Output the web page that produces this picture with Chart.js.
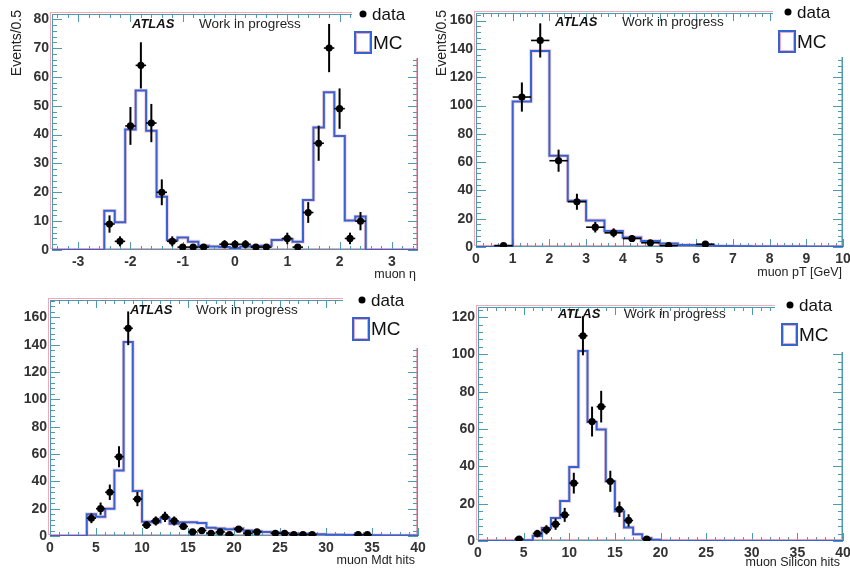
<!DOCTYPE html>
<html><head><meta charset="utf-8">
<script src="https://cdn.jsdelivr.net/npm/chart.js@4.4.1/dist/chart.umd.min.js"></script>
<style>
html,body{margin:0;padding:0;background:#fff;}
#wrap{position:relative;width:850px;height:572px;overflow:hidden;background:#fff;}
canvas{position:absolute;}
</style></head><body>
<div id="wrap">
<canvas id="c1" width="435" height="286" style="left:0;top:0;width:435px;height:286px"></canvas>
<canvas id="c2" width="425" height="286" style="left:425px;top:0;width:425px;height:286px"></canvas>
<canvas id="c3" width="435" height="286" style="left:0;top:286px;width:435px;height:286px"></canvas>
<canvas id="c4" width="425" height="286" style="left:425px;top:286px;width:425px;height:286px"></canvas>
</div>
<script>
// ---------- data (bin low edge, bin width, contents) ----------
const etaLow = -2.5, etaWidth = 0.2;
const etaMC   = [13.6,9.6,41.8,55.3,41.3,18.5,3.5,4.3,2.9,1.5,1.2,1.0,0.7,1.2,1.4,1.5,3.5,3.7,2.9,17.3,42.5,54.7,39.5,10.2,11.6];
const etaData = [9,3,43,64,44,20,3,1,1,1,0,2,2,2,1,1,0,4,1,13,37,70,49,4,10];
const etaXTicks = [-3,-2,-1,0,1,2,3];
const etaYTicks = [0,10,20,30,40,50,60,70,80];

const ptLow = 0, ptWidth = 0.5;
const ptMC   = [0,0.5,102.8,138.6,64.5,32.7,18.8,11.3,6.8,4.2,2.4,1.4,0.9,0.7,0.5,0.4,0.3,0.3,0.2,0.2];
const ptData = [0,1,106,146,61,32,14,10,6,3,1,0,2];
const ptXTicks = [0,1,2,3,4,5,6,7,8,9,10];
const ptYTicks = [0,20,40,60,80,100,120,140,160];

const mdtLow = 4, mdtWidth = 1;
const mdtMC   = [16,14,20,48,142,33,10.5,10,13,9,10,10,9.5,6,5.5,5,5.5,4,3.5,3,2.5,2,1.8,1.6,1.4,1.2,1,0.9,0.8,0.7,0.6,0.5,0.3,0.3,0.3,0.3];
const mdtData = [13,20,32,58,152,27,8,11,14,11,7,3,4,2,3,1,5,2,3,0,2,2,1,1,1,0,0,0,0,1,1];
const mdtXTicks = [0,5,10,15,20,25,30,35,40];
const mdtYTicks = [0,20,40,60,80,100,120,140,160];

const siLow = 5, siWidth = 1;
const siMC   = [0.4,2.7,7,12.3,21.4,39.6,101.8,63.8,59.8,32,16,7.3,3.6,1.6,0.7];
const siDataLow = 4;
const siData = [1,0,4,6,9,14,31,110,64,72,32,17,11,0,1];
const siXTicks = [0,5,10,15,20,25,30,35,40];
const siYTicks = [0,20,40,60,80,100,120];

// ---------- helpers ----------
function histPoints(axMin, axMax, low, w, vals){
  const pts=[{x:axMin,y:0}];
  vals.forEach((v,i)=>pts.push({x:low+i*w,y:v}));
  const hi = low+vals.length*w;
  pts.push({x:hi,y:0});
  if (hi<axMax) pts.push({x:axMax,y:0});
  return pts;
}
function dataPoints(low, w, vals){
  return vals.map((v,i)=>({x:low+(i+0.5)*w,y:v})).filter(p=>p.y>0);
}
const FAM = '"Liberation Sans", Arial, Helvetica, sans-serif';
const TEAL = '#4e9ab0';
const PINK = 'rgba(236,140,160,0.75)';
const PINK_SOFT = 'rgba(236,140,165,0.45)';

function drawFrame(chart,cfg){
  const {ctx, chartArea:a} = chart; const xs=chart.scales.x, ys=chart.scales.y;
  ctx.save();
  ctx.lineWidth=1;
  ctx.strokeStyle=PINK;
  ctx.strokeRect(Math.round(a.left)-1.5, Math.round(a.top)-1.5, Math.round(a.right-a.left), Math.round(a.bottom-a.top));
  ctx.strokeStyle=TEAL;
  ctx.strokeRect(Math.round(a.left)+0.5, Math.round(a.top)+0.5, Math.round(a.right-a.left)-1, Math.round(a.bottom-a.top)-1);
  ctx.beginPath();
  const isMaj=(v,m)=>Math.abs(v/m-Math.round(v/m))<1e-6;
  for(let i=Math.ceil(xs.min/cfg.xMinor-1e-6); i*cfg.xMinor<=xs.max+1e-6; i++){
    const v=i*cfg.xMinor; const px=Math.round(xs.getPixelForValue(v))+0.5;
    const L=isMaj(v,cfg.xMajor)?8:4;
    ctx.moveTo(px,a.bottom); ctx.lineTo(px,a.bottom-L);
    ctx.moveTo(px,a.top); ctx.lineTo(px,a.top+L);
  }
  for(let i=Math.ceil(ys.min/cfg.yMinor-1e-6); i*cfg.yMinor<=ys.max+1e-6; i++){
    const v=i*cfg.yMinor; const py=Math.round(ys.getPixelForValue(v))+0.5;
    const L=isMaj(v,cfg.yMajor)?10:5;
    ctx.moveTo(a.left,py); ctx.lineTo(a.left+L,py);
    ctx.moveTo(a.right,py); ctx.lineTo(a.right-L,py);
  }
  ctx.stroke();
  ctx.restore();
}
function drawErrors(chart,cfg){
  const {ctx, chartArea:a} = chart; const xs=chart.scales.x, ys=chart.scales.y;
  const ds = chart.data.datasets[2];
  ctx.save();
  ctx.beginPath(); ctx.rect(a.left,a.top,a.right-a.left,a.bottom-a.top); ctx.clip();
  ctx.strokeStyle='#000';
  ds.data.forEach(p=>{
    const e=Math.sqrt(p.y);
    const px=xs.getPixelForValue(p.x), py=ys.getPixelForValue(p.y);
    ctx.lineWidth=2;
    ctx.beginPath(); ctx.moveTo(px,ys.getPixelForValue(p.y-e)); ctx.lineTo(px,ys.getPixelForValue(p.y+e)); ctx.stroke();
    ctx.lineWidth=1.6;
    ctx.beginPath(); ctx.moveTo(xs.getPixelForValue(p.x-ds.halfW),py); ctx.lineTo(xs.getPixelForValue(p.x+ds.halfW),py); ctx.stroke();
  });
  ctx.restore();
}
function drawTexts(chart,cfg){
  const {ctx} = chart;
  ctx.save();
  // legend area
  ctx.fillStyle='#fff';
  ctx.fillRect(cfg.legX,0,cfg.legW,cfg.legH);
  ctx.fillStyle='#000';
  ctx.beginPath(); ctx.arc(cfg.dotX,cfg.dotY,3.5,0,Math.PI*2); ctx.fill();
  ctx.fillStyle='#111'; ctx.textBaseline='middle'; ctx.textAlign='left';
  ctx.font='17px '+FAM;
  ctx.fillText('data',cfg.dotX+9,cfg.dotY+1);
  ctx.lineWidth=1; ctx.strokeStyle=PINK;
  ctx.strokeRect(cfg.boxX+1.5,cfg.boxY+1.5,cfg.boxW-3,cfg.boxH-3);
  ctx.lineWidth=2; ctx.strokeStyle='#3464d2';
  ctx.strokeRect(cfg.boxX,cfg.boxY,cfg.boxW,cfg.boxH);
  ctx.font='19px '+FAM;
  ctx.fillText('MC',cfg.boxX+cfg.boxW+2,cfg.boxY+cfg.boxH/2+1);
  // ATLAS label
  ctx.font='italic bold 13px '+FAM;
  ctx.fillText('ATLAS',cfg.atX,cfg.atY);
  ctx.font='13.5px '+FAM; ctx.fillStyle='#222';
  ctx.fillText('Work in progress',cfg.wipX,cfg.atY);
  // axis titles
  ctx.font='12.5px '+FAM; ctx.fillStyle='#222';
  ctx.textAlign='right';
  ctx.fillText(cfg.xTitle,cfg.xtX,cfg.xtY);
  if(cfg.yTitle){
    ctx.translate(cfg.ytX,cfg.ytY); ctx.rotate(-Math.PI/2);
    ctx.font='14px '+FAM;
    ctx.fillText(cfg.yTitle,0,0);
  }
  ctx.restore();
}

function makePanel(cfg){
  const tickFont={family:FAM,size:14,weight:'bold'};
  new Chart(document.getElementById(cfg.id),{
    type:'scatter',
    data:{datasets:[
      {type:'line',data:cfg.mc,stepped:'before',borderColor:PINK_SOFT,borderWidth:3.6,pointRadius:0,fill:false,order:3},
      {type:'line',data:cfg.mc,stepped:'before',borderColor:'#3464d2',borderWidth:2,pointRadius:0,fill:false,order:2},
      {type:'scatter',data:cfg.data,halfW:cfg.halfW,pointRadius:3.6,pointBackgroundColor:'#000',pointBorderColor:'#000',pointBorderWidth:0,order:1}
    ]},
    options:{
      responsive:false,animation:false,events:[],
      layout:{padding:{top:cfg.top,right:cfg.right,left:0,bottom:0}},
      plugins:{legend:{display:false},tooltip:{enabled:false}},
      scales:{
        x:{type:'linear',min:cfg.xMin,max:cfg.xMax,
          afterFit:s=>{s.height=cfg.xh;s.paddingLeft=0;s.paddingRight=0;},
          afterBuildTicks:s=>{s.ticks=cfg.xTicks.map(v=>({value:v}));},
          grid:{display:false,drawTicks:false},border:{display:false},
          ticks:{font:tickFont,color:'#333',padding:4,maxRotation:0,autoSkip:false}},
        y:{type:'linear',min:0,max:cfg.yMax,
          afterFit:s=>{s.width=cfg.yw;s.paddingTop=0;s.paddingBottom=0;},
          afterBuildTicks:s=>{s.ticks=cfg.yTicks.map(v=>({value:v}));},
          grid:{display:false,drawTicks:false},border:{display:false},
          ticks:{font:tickFont,color:'#333',padding:3,autoSkip:false}}
      }
    },
    plugins:[{id:'panel',
      beforeDatasetsDraw(chart){drawFrame(chart,cfg);},
      afterDatasetsDraw(chart){drawErrors(chart,cfg);drawTexts(chart,cfg);}
    }]
  });
}

makePanel({id:'c1',xMin:-3.5,xMax:3.5,yMax:81.8,top:14,right:17,xh:36,yw:52,
  xTicks:etaXTicks,yTicks:etaYTicks,xMinor:0.2,xMajor:1,yMinor:2,yMajor:10,
  mc:histPoints(-3.5,3.5,etaLow,etaWidth,etaMC),data:dataPoints(etaLow,etaWidth,etaData),halfW:etaWidth/2,
  legX:352,legW:73,legH:58,dotX:363,dotY:14,boxX:355,boxY:32,boxW:16,boxH:21,
  atX:132,atY:24,wipX:199,xTitle:'muon η',xtX:416,xtY:275,yTitle:'Events/0.5',ytX:17,ytY:10});

makePanel({id:'c2',xMin:0,xMax:10,yMax:165.4,top:13,right:7,xh:39,yw:51,
  xTicks:ptXTicks,yTicks:ptYTicks,xMinor:0.2,xMajor:1,yMinor:4,yMajor:20,
  mc:histPoints(0,10,ptLow,ptWidth,ptMC),data:dataPoints(ptLow,ptWidth,ptData),halfW:ptWidth/2,
  legX:348,legW:77,legH:57,dotX:363,dotY:12,boxX:354,boxY:31,boxW:16,boxH:21,
  atX:130,atY:22,wipX:197,xTitle:'muon pT [GeV]',xtX:417,xtY:273,yTitle:'Events/0.5',ytX:17,ytY:10});

makePanel({id:'c3',xMin:0,xMax:40,yMax:172.7,top:14,right:17,xh:36,yw:50,
  xTicks:mdtXTicks,yTicks:mdtYTicks,xMinor:1,xMajor:5,yMinor:4,yMajor:20,
  mc:histPoints(0,40,mdtLow,mdtWidth,mdtMC),data:dataPoints(mdtLow,mdtWidth,mdtData),halfW:mdtWidth/2,
  legX:343,legW:82,legH:62,dotX:362,dotY:14,boxX:353,boxY:32,boxW:16,boxH:22,
  atX:130,atY:24,wipX:196,xTitle:'muon Mdt hits',xtX:415,xtY:275,yTitle:null});

makePanel({id:'c4',xMin:0,xMax:40,yMax:125.4,top:21,right:7,xh:31,yw:53,
  xTicks:siXTicks,yTicks:siYTicks,xMinor:1,xMajor:5,yMinor:4,yMajor:20,
  mc:histPoints(0,40,siLow,siWidth,siMC),data:dataPoints(siDataLow,siWidth,siData),halfW:siWidth/2,
  legX:350,legW:75,legH:66,dotX:365,dotY:19,boxX:357,boxY:38,boxW:15,boxH:21,
  atX:133,atY:28,wipX:199,xTitle:'muon Silicon hits',xtX:415,xtY:277,yTitle:null});
</script>
</body></html>
